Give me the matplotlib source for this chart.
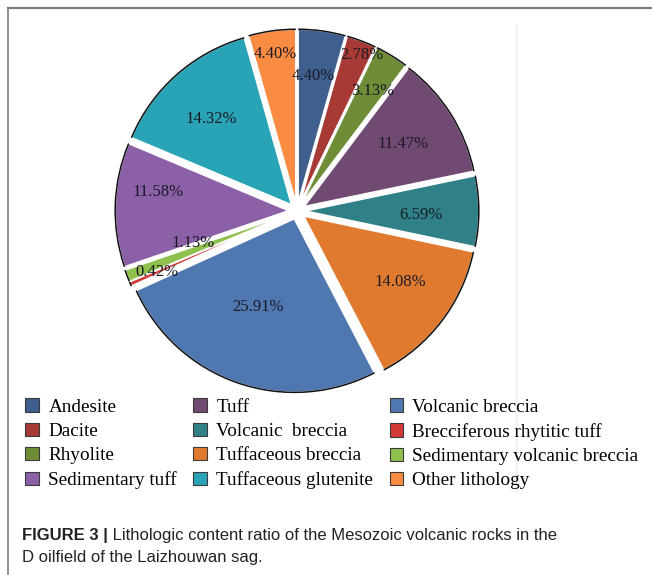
"""
Lithologic content ratio pie (Mesozoic volcanic rocks, D oilfield, Laizhouwan sag).
"""

import matplotlib

matplotlib.use("Agg")
import matplotlib.pyplot as plt
import numpy as np
from matplotlib.lines import Line2D
from matplotlib.patches import Arc

# data
lithology = [
    "Andesite", "Dacite", "Rhyolite", "Sedimentary tuff",
    "Tuff", "Volcanic  breccia", "Tuffaceous breccia", "Tuffaceous glutenite",
    "Volcanic breccia", "Brecciferous rhytitic tuff",
    "Sedimentary volcanic breccia", "Other lithology",
]
# pie order (clockwise from 12 o'clock)
pie_order = [0, 1, 2, 4, 5, 6, 8, 9, 10, 3, 7, 11]
ratio = [4.40, 2.78, 3.13, 11.58, 11.47, 6.59, 14.08, 14.32, 25.91, 0.42, 1.13, 4.40]
colors = [
    "#3f5f8e", "#a83a36", "#6f8c36", "#8c60a6",
    "#714a73", "#2f8187", "#e07a2f", "#29a4b6",
    "#5078b0", "#d43b36", "#8fbf4c", "#f98b42",
]

# label placement tweaks (angle shift in deg, radius factor), pie order
lab_shift = [1, -1.7, -1, 0, -2, 2.6, -3, 0, -4, -6, 1.5, 0]
lab_rad = [0.75, 0.93, 0.78, 0.69, 0.68, 0.69, 0.57, 0.84, 0.60, 0.77, 0.69, 0.87]

SERIF = ["Liberation Serif", "DejaVu Serif"]

fig = plt.figure(figsize=(6.52, 5.75), dpi=100)
W, H = 652, 575

# pie axes centred at (297, 211) px
cx, cy, half = 297, 211, 200
ax = fig.add_axes([(cx - half) / W, 1 - (cy + half) / H, 2 * half / W, 2 * half / H])
ax.set_aspect("equal")
ax.axis("off")

vals = [ratio[i] for i in pie_order]
cols = [colors[i] for i in pie_order]
wedges, _ = ax.pie(
    vals,
    colors=cols,
    startangle=90,
    counterclock=False,
    radius=0.955,
    explode=[0.045] * len(vals),
    wedgeprops=dict(edgecolor="white", linewidth=1.2),
)
ax.set_xlim(-1.1, 1.1)
ax.set_ylim(-1.1, 1.1)

for k, w in enumerate(wedges):
    ax.add_patch(Arc(w.center, 2 * w.r, 2 * w.r, theta1=w.theta1, theta2=w.theta2,
                     color="#111111", linewidth=1.1))
    mid = np.deg2rad(0.5 * (w.theta1 + w.theta2) + lab_shift[k])
    ax.text(lab_rad[k] * np.cos(mid), lab_rad[k] * np.sin(mid), f"{vals[k]:.2f}%",
            ha="center", va="center", fontsize=12, family=SERIF, color="#1a1a26")

# legend
handles = [plt.Rectangle((0, 0), 1, 1, facecolor=c, edgecolor="#3a3a3a", linewidth=0.8)
           for c in colors]
fig.legend(handles, lithology, ncol=3, loc="upper left",
           bbox_to_anchor=(12 / W, 1 - 385 / H), frameon=False,
           prop=dict(family=SERIF, size=13.8), handlelength=0.7, handleheight=0.7,
           handletextpad=0.5, labelspacing=0.36, columnspacing=0.85, borderpad=0.2)

# frame lines
fig.add_artist(Line2D([8 / W, 1], [1 - 8 / H, 1 - 8 / H], color="#7d7d7d", lw=1.6))
fig.add_artist(Line2D([8 / W, 8 / W], [0, 1 - 8 / H], color="#7d7d7d", lw=1.2))
fig.add_artist(Line2D([516 / W, 516 / W], [1 - 490 / H, 1 - 25 / H], color="#f3f3f3", lw=2))

# caption
CAP = ["Liberation Sans", "DejaVu Sans"]
t1 = fig.text(22 / W, 1 - 540 / H, "FIGURE 3 |", fontsize=12, fontweight="bold",
              family=CAP, va="baseline", color="#222222")
ax.annotate(" Lithologic content ratio of the Mesozoic volcanic rocks in the",
            xy=(1, 0), xycoords=t1, va="bottom", ha="left", fontsize=12,
            family=CAP, color="#222222", annotation_clip=False)
fig.text(22 / W, 1 - 562 / H, "D oilfield of the Laizhouwan sag.", fontsize=12,
         family=CAP, va="baseline", color="#222222")

fig.savefig("out.png", dpi=100)
